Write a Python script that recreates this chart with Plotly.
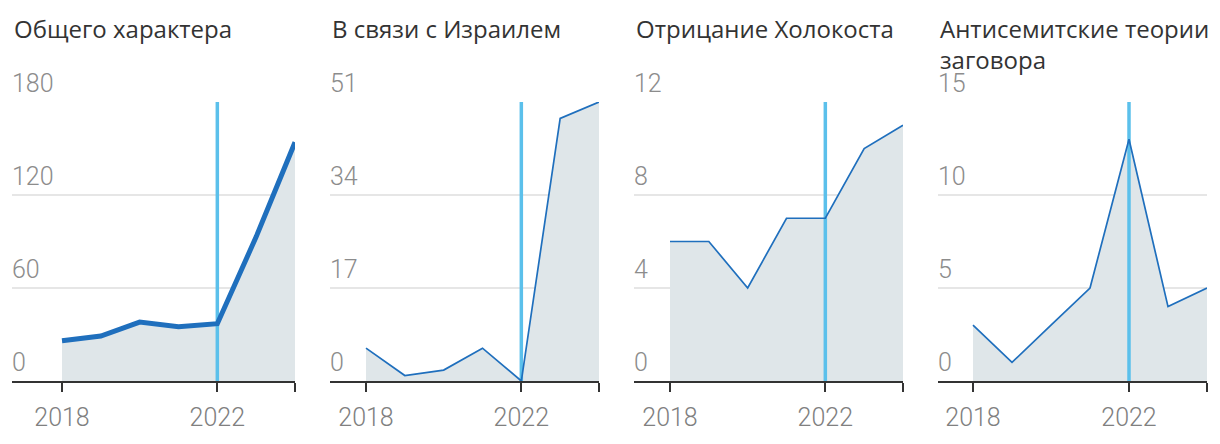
import plotly.graph_objects as go

years = [2018, 2019, 2020, 2021, 2022, 2023, 2024]
titles = ["Общего характера", "В связи с Израилем", "Отрицание Холокоста",
          "Антисемитские теории<br>заговора"]
general = [26, 29, 38, 35, 37, 93, 154]
israel = [6, 1, 2, 6, 0, 48, 51]
holocaust = [6, 6, 4, 7, 7, 10, 11]
conspiracy = [3, 1, 3, 5, 13, 4, 5]
series = [general, israel, holocaust, conspiracy]
y_ticks = [[0, 60, 120, 180], [0, 17, 34, 51], [0, 4, 8, 12], [0, 5, 10, 15]]
x_tickvals = [2018, 2022, 2024]
x_ticktext = ["2018", "2022", ""]
marker_year = 2022

OFF = 8  # page body margin
W, H = 1220 - 2 * OFF, 444 - 2 * OFF
# reference-pixel layout of each panel: axis start, px of 2018, px of 2024
panels = [(12, 62, 295), (330, 366, 599), (634, 670, 903), (938, 973, 1207)]
line_widths = [5, 1.7, 1.7, 1.7]

LINE = "#1f6fbd"
FILL = "#dfe6e9"
VLINE = "#5bc0eb"
GRID = "#e6e6e6"
FONT = "Open Sans"
NUMFONT = "Roboto"


def px_x(p):
    return (p - OFF) / W


def px_y(p):
    return 1 - (p - OFF) / H


fig = go.Figure()
y_top, y_bot = 102, 381
for i, (vals, ticks) in enumerate(zip(series, y_ticks)):
    n = i + 1
    xa = "x" if n == 1 else f"x{n}"
    ya = "y" if n == 1 else f"y{n}"
    fig.add_trace(go.Scatter(x=years, y=vals, mode="lines", line=dict(width=0),
                             fill="tozeroy", fillcolor=FILL, hoverinfo="skip",
                             xaxis=xa, yaxis=ya, showlegend=False))
    fig.add_trace(go.Scatter(x=[marker_year, marker_year], y=[0, ticks[-1]], mode="lines",
                             line=dict(color=VLINE, width=3.5), hoverinfo="skip",
                             xaxis=xa, yaxis=ya, showlegend=False))
    fig.add_trace(go.Scatter(x=years, y=vals, mode="lines",
                             line=dict(color=LINE, width=line_widths[i]),
                             xaxis=xa, yaxis=ya, showlegend=False))
    a0, p18, p24 = panels[i]
    per_year = (p24 - p18) / (years[-1] - years[0])
    x0 = years[0] - (p18 - a0) / per_year
    xkey = "xaxis" if n == 1 else f"xaxis{n}"
    ykey = "yaxis" if n == 1 else f"yaxis{n}"
    fig.layout[xkey] = dict(domain=[px_x(a0), px_x(p24)], range=[x0, years[-1]],
                            tickvals=x_tickvals, ticktext=x_ticktext,
                            showgrid=False, zeroline=False, showline=True,
                            linecolor="#333333", linewidth=2, ticks="outside",
                            ticklen=9, tickwidth=2, tickcolor="#333333",
                            tickfont=dict(family=NUMFONT, size=25, color="#808080", weight=300),
                            ticklabelstandoff=4, anchor=ya, fixedrange=True)
    fig.layout[ykey] = dict(domain=[px_y(y_bot), px_y(y_top)],
                            range=[0, ticks[-1]], tickvals=ticks,
                            showgrid=True, gridcolor=GRID, gridwidth=1.5,
                            zeroline=False, showline=False, showticklabels=False,
                            anchor=xa, fixedrange=True)
    for t in ticks:
        fig.add_annotation(text=str(t), x=x0, xref=xa, xanchor="left",
                           y=t, yref=ya, yanchor="bottom", yshift=2,
                           showarrow=False, xshift=-2,
                           font=dict(family=NUMFONT, size=25, color="#8c8c8c", weight=300))
    fig.add_annotation(text=titles[i], x=px_x(a0), xref="paper", xanchor="left",
                       y=px_y(10), yref="paper", yanchor="top", align="left",
                       showarrow=False,
                       font=dict(family=FONT, size=24, color="#333333"))

fig.update_layout(width=W, height=H, margin=dict(l=0, r=0, t=0, b=0),
                  paper_bgcolor="white", plot_bgcolor="white",
                  font=dict(family=FONT))
fig.write_html("out.html")
